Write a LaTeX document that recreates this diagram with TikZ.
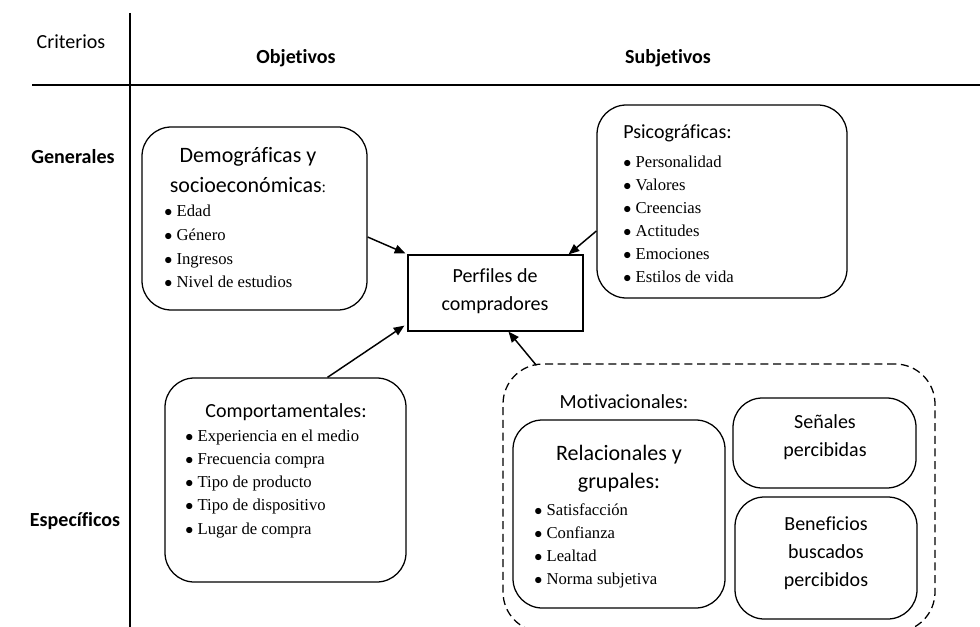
\documentclass[tikz,border=0pt]{standalone}
\usepackage{fontspec}
\setmainfont{Carlito}[Ligatures=NoCommon]
\newfontfamily\serif{Liberation Serif}
\usetikzlibrary{arrows.meta,fit,calc}
\newcommand{\bul}{$\bullet$\hspace{0.26em}}
\begin{document}
\begin{tikzpicture}[x=0.75pt,y=-0.75pt,
  box/.style={draw, line width=0.95pt, rounded corners=22pt, inner sep=0pt},
  dbox/.style={draw, line width=0.95pt, rounded corners=30pt, inner sep=0pt, dash pattern=on 6pt off 3.5pt},
  pbox/.style={draw, line width=0.95pt, inner sep=0pt},
  grid/.style={line width=1.6pt},
  lbl/.style={font=\fontsize{15}{18}\selectfont, inner sep=0pt},
  blbl/.style={font=\bfseries\fontsize{15}{18}\selectfont, inner sep=0pt},
  head/.style={font=\fontsize{15}{21}\selectfont, inner sep=0pt, align=center},
  bighead/.style={font=\fontsize{16.5}{22}\selectfont, inner sep=0pt, align=center},
  item/.style={font=\serif\fontsize{12.5}{14}\selectfont, inner sep=0pt, anchor=base west},
  arr/.style={line width=1.1pt, -{Triangle[length=8pt,width=6.5pt]}}]
\useasboundingbox (0,0) rectangle (980,627);

% table lines
\coordinate (vtop) at (130,13);
\coordinate (vbot) at (130,627);
\coordinate (hl) at (32,85);
\coordinate (hr) at (980,85);
\draw[grid] (vtop) -- (vbot);
\draw[grid] (hl) -- (hr);

% header labels
\node[lbl] (crit) at (71,42) {Criterios};
\node[blbl] (obj) at (296,58) {Objetivos};
\node[blbl] (subj) at (668,58) {Subjetivos};
\node[blbl] (gen) at (73,157) {Generales};
\node[blbl] (esp) at (75,521) {Específicos};

% boxes
\node[box, fit={(142,127) (367,310)}] (demo) {};
\node[box, fit={(597,105) (847,298)}] (psico) {};
\node[pbox, fit={(408,255) (583,331)}] (perf) {};
\node[box, fit={(165,378) (406,582)}] (comp) {};
\node[dbox, fit={(503,364) (935,632)}] (motiv) {};
\node[box, fit={(513,420) (725,608)}] (rel) {};
\node[box, fit={(733,398) (916,488)}] (senal) {};
\node[box, fit={(735,497) (917,619)}] (benef) {};

% box texts
\node[bighead, font=\fontsize{16.5}{22.5}\selectfont] (demot) at (248,170) {Demográficas y\\socioeconómicas{\serif\fontsize{12}{14}\selectfont:}};
\foreach \t [count=\i] in {Edad, Género, Ingresos, Nivel de estudios}
  \node[item] (dem\i) at (164,{217+23.6*(\i-1)}) {\bul\t};

\node[lbl, anchor=west] (psicot) at (623,133) {Psicográficas:};
\foreach \t [count=\i] in {Personalidad, Valores, Creencias, Actitudes, Emociones, Estilos de vida}
  \node[item] (psi\i) at (623,{168+22.8*(\i-1)}) {\bul\t};

\node[head] (perft) at (495,291) {Perfiles de\\compradores};

\node[lbl] (compt) at (286,412) {Comportamentales:};
\foreach \t [count=\i] in {Experiencia en el medio, Frecuencia compra, Tipo de producto, Tipo de dispositivo, Lugar de compra}
  \node[item] (com\i) at (185,{441+23.3*(\i-1)}) {\bul\t};

\node[lbl] (motivt) at (624,402) {Motivacionales:};
\node[bighead, font=\fontsize{16.5}{21}\selectfont] (relt) at (619,469) {Relacionales y\\grupales:};
\foreach \t [count=\i] in {Satisfacción, Confianza, Lealtad, Norma subjetiva}
  \node[item] (rel\i) at (534,{515+23.3*(\i-1)}) {\bul\t};

\node[head] (senalt) at (825,437) {Señales\\percibidas};
\node[head] (beneft) at (826,553) {Beneficios\\buscados\\percibidos};

% arrows
\draw[arr] (demo.east |- 0,237) -- ($(perf.north west)+(-2,-1)$);
\draw[arr] (psico.west |- 0,231) -- ($(perf.north east)+(-15,0)$);
\draw[arr] ($(comp.north)+(42,0)$) -- ($(perf.south west)+(-3,-6)$);
\draw[arr] ($(motiv.north west)+(34,2)$) -- ($(perf.south)+(13,0)$);
\end{tikzpicture}
\end{document}
